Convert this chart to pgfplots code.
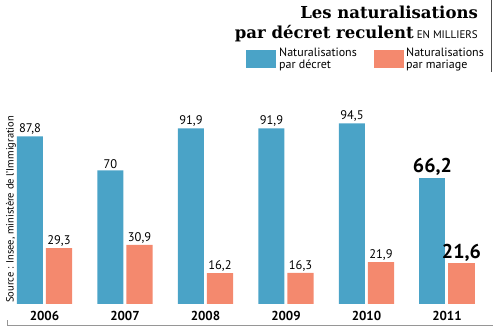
\documentclass[border=0pt]{standalone}
\usepackage{pgfplots}
\pgfplotsset{compat=1.18}
\usepackage{fontspec}
\setmainfont{PT Sans}
\newfontfamily\titlefont{DejaVu Serif}
\definecolor{cblue}{RGB}{74,163,199}
\definecolor{corange}{RGB}{244,137,110}
\definecolor{cgray}{RGB}{150,150,150}
\begin{document}
\begin{tikzpicture}[x=1pt,y=1pt]
\path[use as bounding box] (0,0) rectangle (493,328);
% frame lines
\draw[cgray,line width=0.6pt] (7,2.5) -- (493,2.5);
\draw[cgray,line width=0.6pt] (7,2.5) -- (7,8);
\draw[black!70,line width=0.8pt] (491.7,328) -- (491.7,256);
% title
\node[anchor=base east,font=\titlefont\bfseries\fontsize{16.5}{18}\selectfont,inner sep=0] at (478,309) {Les naturalisations};
\node[anchor=base east,inner sep=0] at (478,289) {{\titlefont\bfseries\fontsize{16.5}{18}\selectfont par décret reculent}\hspace{3pt}{\fontsize{11}{12}\selectfont EN MILLIERS}};
% legend
\fill[cblue] (246,260) rectangle (276,278);
\node[anchor=north west,align=left,inner sep=0,font=\fontsize{12}{12}\selectfont] at (279,280) {Naturalisations\\par décret};
\fill[corange] (374,260) rectangle (404,278);
\node[anchor=north west,align=left,inner sep=0,font=\fontsize{12}{12}\selectfont] at (406,280) {Naturalisations\\par mariage};
% source
\node[rotate=90,anchor=west,inner sep=0,font=\fontsize{10.5}{11}\selectfont] at (11,25) {Source : Insee, ministère de l'Immigration};
\begin{axis}[
  at={(4.25pt,24pt)}, anchor=south west,
  scale only axis, width=483pt, height=191pt,
  xmin=-0.5, xmax=5.5, ymin=0, ymax=100,
  axis line style={draw=none},
  ytick=\empty,
  xtick={0,1,2,3,4,5},
  xticklabels={2006,2007,2008,2009,2010,2011},
  xticklabel style={font=\fontsize{13}{13}\selectfont\bfseries, yshift=-4pt},
  major tick length=0pt,
  /pgf/number format/assume math mode=true,
  ybar, bar width=26pt,
  nodes near coords={\pgfmathprintnumber[fixed,precision=1,use comma,assume math mode=true]{\pgfplotspointmeta}},
  every node near coord/.append style={font=\fontsize{12.5}{12.5}\selectfont, black, inner sep=1.5pt},
  clip=false,
]
\addplot[draw=none, fill=cblue, bar shift=-14.5pt] coordinates {(0,87.8) (1,70) (2,91.9) (3,91.9) (4,94.5)};
\addplot[draw=none, fill=corange, bar shift=14.5pt] coordinates {(0,29.3) (1,30.9) (2,16.2) (3,16.3) (4,21.9)};
\addplot[draw=none, fill=cblue, bar shift=-14.5pt, every node near coord/.append style={font=\fontsize{20}{20}\selectfont\bfseries}] coordinates {(5,66.2)};
\addplot[draw=none, fill=corange, bar shift=14.5pt, every node near coord/.append style={font=\fontsize{20}{20}\selectfont\bfseries}] coordinates {(5,21.6)};
\end{axis}
\end{tikzpicture}
\end{document}
